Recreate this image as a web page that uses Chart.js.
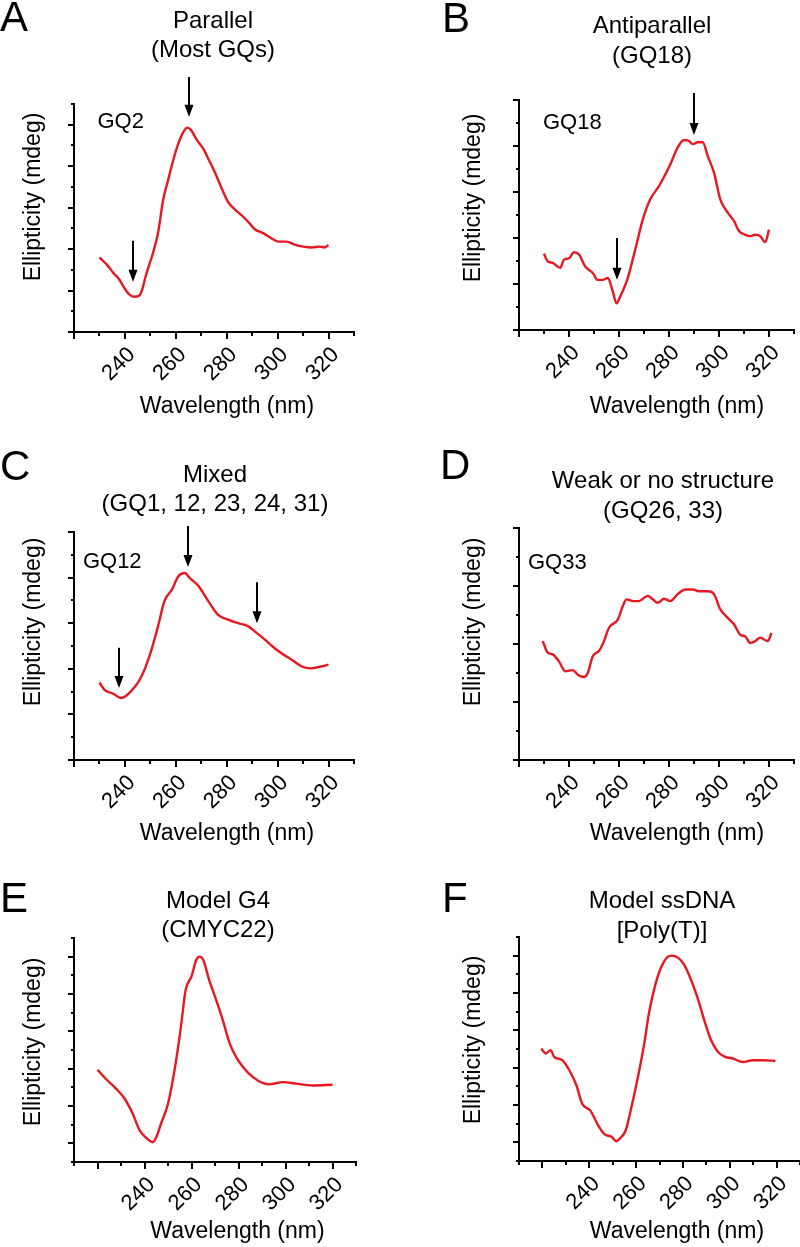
<!DOCTYPE html>
<html>
<head>
<meta charset="utf-8">
<title>CD spectra</title>
<script src="https://cdn.jsdelivr.net/npm/chart.js@4.4.1/dist/chart.umd.min.js"></script>
<style>
  html, body { margin: 0; padding: 0; background: #fff; }
  #page { position: relative; width: 800px; height: 1247px; overflow: hidden; }
  #page canvas { position: absolute; left: 0; top: 0; }
</style>
</head>
<body>
<div id="page">
  <canvas id="cA" width="800" height="1247"></canvas>
  <canvas id="cB" width="800" height="1247"></canvas>
  <canvas id="cC" width="800" height="1247"></canvas>
  <canvas id="cD" width="800" height="1247"></canvas>
  <canvas id="cE" width="800" height="1247"></canvas>
  <canvas id="cF" width="800" height="1247"></canvas>
</div>
<script>
// axis text + tick labels
const xAxisTitle = 'Wavelength (nm)';
const yAxisTitle = 'Ellipticity (mdeg)';
const tickLabels = [240, 260, 280, 300, 320];

// panel headings
const titleA = ['Parallel', '(Most GQs)'];
const titleB = ['Antiparallel', '(GQ18)'];
const titleC = ['Mixed', '(GQ1, 12, 23, 24, 31)'];
const titleD = ['Weak or no structure', '(GQ26, 33)'];
const titleE = ['Model G4', '(CMYC22)'];
const titleF = ['Model ssDNA', '[Poly(T)]'];

// spectra (wavelength nm / ellipticity, arbitrary units)
const wavelengthA = [230, 233, 235.5, 237.5, 239.5, 241.5, 243.5, 245.5, 246.5, 248.5, 251, 253, 255, 257, 259, 261, 263, 264.5, 266, 268, 271, 273, 275.5, 278, 280.5, 283.5, 286.5, 289, 291, 294.5, 297.5, 300.5, 303.5, 307, 310, 313.5, 316.5, 318.5, 320];
const ellipticityA = [1.80, 1.62, 1.42, 1.29, 1.09, 0.92, 0.85, 0.87, 0.97, 1.42, 1.90, 2.38, 3.18, 3.67, 4.15, 4.55, 4.83, 4.93, 4.87, 4.66, 4.40, 4.15, 3.83, 3.47, 3.14, 2.94, 2.78, 2.62, 2.48, 2.38, 2.26, 2.18, 2.18, 2.10, 2.06, 2.04, 2.06, 2.04, 2.10];

const wavelengthB = [230, 231.5, 233.5, 236.5, 238, 240, 242, 244, 246.5, 249.5, 251.5, 253.5, 255.5, 257.5, 259, 260.5, 263.5, 266.5, 269.5, 272.5, 276, 278.5, 280.5, 283.5, 286, 288, 289.5, 291.5, 293.5, 295.5, 298, 300.5, 303.5, 306, 308, 310.5, 312.5, 314.5, 316.5, 318.5, 320];
const ellipticityB = [1.66, 1.49, 1.46, 1.35, 1.53, 1.56, 1.69, 1.64, 1.38, 1.24, 1.09, 1.09, 1.13, 0.84, 0.58, 0.73, 1.13, 1.75, 2.40, 2.84, 3.13, 3.38, 3.60, 3.97, 4.13, 4.11, 4.04, 4.08, 4.08, 3.78, 3.42, 2.84, 2.55, 2.37, 2.15, 2.07, 2.04, 2.07, 2.04, 1.91, 2.18];

const wavelengthC = [230, 232, 235.5, 238.5, 240.5, 244, 246.5, 250, 253, 255.5, 258.5, 261, 263.5, 265.5, 269, 272, 276.5, 280.5, 284.5, 288.5, 291, 295, 298, 301.5, 305.5, 309.5, 313, 317, 320];
const ellipticityC = [1.70, 1.54, 1.45, 1.36, 1.41, 1.61, 1.83, 2.34, 2.93, 3.48, 3.74, 4.03, 4.10, 3.99, 3.81, 3.55, 3.19, 3.08, 3.00, 2.93, 2.82, 2.64, 2.49, 2.34, 2.20, 2.05, 2.01, 2.05, 2.09];

const wavelengthD = [229.5, 231.5, 233.5, 236, 238.5, 241.5, 243.5, 246, 247.5, 249.5, 252, 254, 256, 259.5, 261.5, 263, 265.5, 268, 271.5, 273.5, 275.5, 278, 280.5, 283.5, 286.5, 289.5, 292, 295.5, 298, 300.5, 303.5, 306, 308.5, 310.5, 312.5, 314.5, 316.5, 319.5, 321];
const ellipticityD = [2.05, 1.85, 1.82, 1.70, 1.53, 1.55, 1.47, 1.43, 1.50, 1.79, 1.88, 2.05, 2.28, 2.42, 2.65, 2.77, 2.74, 2.74, 2.83, 2.77, 2.71, 2.78, 2.74, 2.86, 2.94, 2.94, 2.91, 2.91, 2.86, 2.60, 2.45, 2.34, 2.16, 2.13, 2.02, 2.05, 2.11, 2.05, 2.19];

const wavelengthE = [220, 223.5, 228, 231.5, 235, 238, 240.5, 243.5, 245, 247, 250, 253, 255.5, 257.5, 260, 262, 263.5, 265, 267.5, 270.5, 273.5, 276, 279, 282, 286, 290.5, 293, 299, 304.5, 311.5, 320];
const ellipticityE = [1.97, 1.73, 1.46, 1.20, 0.79, 0.34, 0.16, 0.03, 0.16, 0.52, 1.06, 2.04, 3.12, 4.11, 4.47, 4.91, 5.00, 4.91, 4.38, 3.84, 3.26, 2.72, 2.31, 2.04, 1.78, 1.61, 1.58, 1.64, 1.60, 1.55, 1.57];

const wavelengthF = [219.5, 221.5, 223.5, 225, 228.5, 231.5, 234.5, 237, 240.5, 243.5, 246.5, 249.5, 251.5, 253.5, 255.5, 258, 260.5, 263.5, 265.5, 268, 270, 273, 275, 278, 280.5, 283.5, 286.5, 289.5, 292, 295, 298, 301.5, 305.5, 310, 314.5, 319.5];
const ellipticityF = [2.51, 2.38, 2.47, 2.29, 2.20, 1.93, 1.53, 1.03, 0.85, 0.49, 0.22, 0.15, 0.03, 0.13, 0.31, 0.94, 1.66, 2.65, 3.46, 4.17, 4.58, 4.94, 5.00, 4.94, 4.76, 4.35, 3.82, 3.19, 2.74, 2.42, 2.29, 2.24, 2.15, 2.20, 2.20, 2.18];

const FONT = '"Liberation Sans", Arial, Helvetica, sans-serif';
const RED = 'rgb(232, 24, 32)';
const PAGE_W = 800, PAGE_H = 1247;
const X_LABEL_BAND = 60;   // room below each x axis for the rotated tick labels

// layout of each panel (pixel boxes, text anchors; arrows / sample name in data units)
const panels = [
  { id: 'cA', letter: 'A', x: wavelengthA, y: ellipticityA, title: titleA, sample: 'GQ2',
    xMin: 220, yMin: 0, yMax: 5.5, area: [74, 104, 354, 332],
    letterPos: [0, 31], titlePos: [213, 27.5], yLabelPos: [40, 197], xLabelPos: [227, 412.5],
    samplePos: [229.2, 4.93], arrows: [[265.2, 6.15, 5.19], [243.2, 2.2, 1.21]] },
  { id: 'cB', letter: 'B', x: wavelengthB, y: ellipticityB, title: titleB, sample: 'GQ18',
    xMin: 220, yMin: 0, yMax: 5, area: [519, 100, 794, 330],
    letterPos: [442, 32], titlePos: [652, 33], yLabelPos: [480, 198], xLabelPos: [677, 412.5],
    samplePos: [229.6, 4.38], arrows: [[290, 5.15, 4.24], [259.2, 2.0, 1.09]] },
  { id: 'cC', letter: 'C', x: wavelengthC, y: ellipticityC, title: titleC, sample: 'GQ12',
    xMin: 220, yMin: 0, yMax: 5, area: [74, 532, 354, 760],
    letterPos: [0, 480], titlePos: [215, 481.7], yLabelPos: [40, 622], xLabelPos: [227, 840],
    samplePos: [223.5, 4.2], arrows: [[264.9, 5.13, 4.23], [237.7, 2.46, 1.58], [292, 3.9, 3.0]] },
  { id: 'cD', letter: 'D', x: wavelengthD, y: ellipticityD, title: titleD, sample: 'GQ33',
    xMin: 220, yMin: 0, yMax: 4, area: [519, 528, 794, 760],
    letterPos: [440, 479], titlePos: [663, 488], yLabelPos: [480, 622], xLabelPos: [677, 840],
    samplePos: [223.6, 3.3], arrows: [] },
  { id: 'cE', letter: 'E', x: wavelengthE, y: ellipticityE, title: titleE, sample: null,
    xMin: 210, yMin: -0.5, yMax: 5.5, area: [74, 938, 356, 1162],
    letterPos: [0, 912], titlePos: [218, 907.7], yLabelPos: [40, 1042], xLabelPos: [237.5, 1238],
    samplePos: null, arrows: [] },
  { id: 'cF', letter: 'F', x: wavelengthF, y: ellipticityF, title: titleF, sample: null,
    xMin: 210, yMin: -0.5, yMax: 5.5, area: [519, 937, 800, 1161],
    letterPos: [442, 912], titlePos: [662, 908], yLabelPos: [480, 1040], xLabelPos: [677, 1238],
    samplePos: null, arrows: [] }
];
const X_MAX = 330;

function stepTicks(from, to, step) {
  const out = [];
  for (let v = from; v <= to + 1e-9; v += step) out.push({ value: Math.round(v * 100) / 100 });
  return out;
}

// letter, headings, axis titles, sample name and arrows
function decor(p) {
  return {
    id: 'decor' + p.letter,
    afterDraw(chart) {
      const ctx = chart.ctx;
      const xs = chart.scales.x, ys = chart.scales.y;
      ctx.save();
      ctx.fillStyle = '#000';
      ctx.strokeStyle = '#000';
      ctx.textBaseline = 'alphabetic';

      ctx.font = '42px ' + FONT;
      ctx.textAlign = 'left';
      ctx.fillText(p.letter, p.letterPos[0], p.letterPos[1]);

      ctx.font = '24px ' + FONT;
      ctx.textAlign = 'center';
      p.title.forEach((t, i) => ctx.fillText(t, p.titlePos[0], p.titlePos[1] + i * 29.5));

      ctx.font = '23px ' + FONT;
      ctx.fillText(xAxisTitle, p.xLabelPos[0], p.xLabelPos[1]);
      ctx.save();
      ctx.translate(p.yLabelPos[0], p.yLabelPos[1]);
      ctx.rotate(-Math.PI / 2);
      ctx.fillText(yAxisTitle, 0, 0);
      ctx.restore();

      if (p.sample) {
        ctx.font = '22px ' + FONT;
        ctx.textAlign = 'left';
        ctx.fillText(p.sample, xs.getPixelForValue(p.samplePos[0]), ys.getPixelForValue(p.samplePos[1]));
      }

      ctx.lineWidth = 2;
      p.arrows.forEach(a => {
        const x = Math.round(xs.getPixelForValue(a[0]));
        const y1 = ys.getPixelForValue(a[1]);
        const y2 = ys.getPixelForValue(a[2]);
        ctx.beginPath();
        ctx.moveTo(x, y1);
        ctx.lineTo(x, y2 - 10);
        ctx.stroke();
        ctx.beginPath();
        ctx.moveTo(x - 4.5, y2 - 12);
        ctx.lineTo(x + 4.5, y2 - 12);
        ctx.lineTo(x, y2);
        ctx.closePath();
        ctx.fill();
      });
      ctx.restore();
    }
  };
}

const tickGrid = len => ({ drawOnChartArea: false, color: '#000', lineWidth: 2, tickLength: len });

panels.forEach(p => {
  const [left, top, right, bottom] = p.area;
  new Chart(document.getElementById(p.id), {
    type: 'line',
    data: {
      datasets: [{
        data: p.x.map((w, i) => ({ x: w, y: p.y[i] })),
        borderColor: RED,
        borderWidth: 2.4,
        pointRadius: 0,
        fill: false,
        cubicInterpolationMode: 'monotone'
      }]
    },
    options: {
      responsive: false,
      animation: false,
      devicePixelRatio: 1,
      events: [],
      layout: { padding: { left: left, top: top, right: PAGE_W - right, bottom: PAGE_H - bottom - X_LABEL_BAND } },
      plugins: { legend: { display: false }, tooltip: { enabled: false }, title: { display: false } },
      scales: {
        xMinor: {
          type: 'linear', position: 'bottom', weight: 0, min: p.xMin, max: X_MAX,
          afterFit: s => { s.height = 0; },
          afterBuildTicks: s => { s.ticks = stepTicks(p.xMin, X_MAX, 10); },
          grid: tickGrid(4),
          border: { display: false },
          ticks: { display: false }
        },
        x: {
          type: 'linear', position: 'bottom', weight: 1, min: p.xMin, max: X_MAX,
          afterFit: s => { s.height = X_LABEL_BAND; },
          afterBuildTicks: s => { s.ticks = stepTicks(220, 320, 20); },
          grid: tickGrid(7),
          border: { color: '#000', width: 2 },
          ticks: {
            autoSkip: false, minRotation: 45, maxRotation: 45, padding: 3, labelOffset: 7,
            color: '#000', font: { family: FONT, size: 22 },
            callback: v => tickLabels.includes(Math.round(v)) ? String(Math.round(v)) : ''
          }
        },
        y: {
          type: 'linear', position: 'left', min: p.yMin, max: p.yMax,
          afterFit: s => { s.width = 0; },
          afterBuildTicks: s => { s.ticks = stepTicks(Math.ceil(p.yMin), Math.floor(p.yMax), 1); },
          grid: tickGrid(6),
          border: { color: '#000', width: 2 },
          ticks: { display: false }
        },
        yMinor: {
          type: 'linear', position: 'left', min: p.yMin, max: p.yMax,
          afterFit: s => { s.width = 0; },
          afterBuildTicks: s => { s.ticks = stepTicks(p.yMin, p.yMax, 0.5); },
          grid: tickGrid(3),
          border: { display: false },
          ticks: { display: false }
        }
      }
    },
    plugins: [decor(p)]
  });
});
</script>
</body>
</html>
